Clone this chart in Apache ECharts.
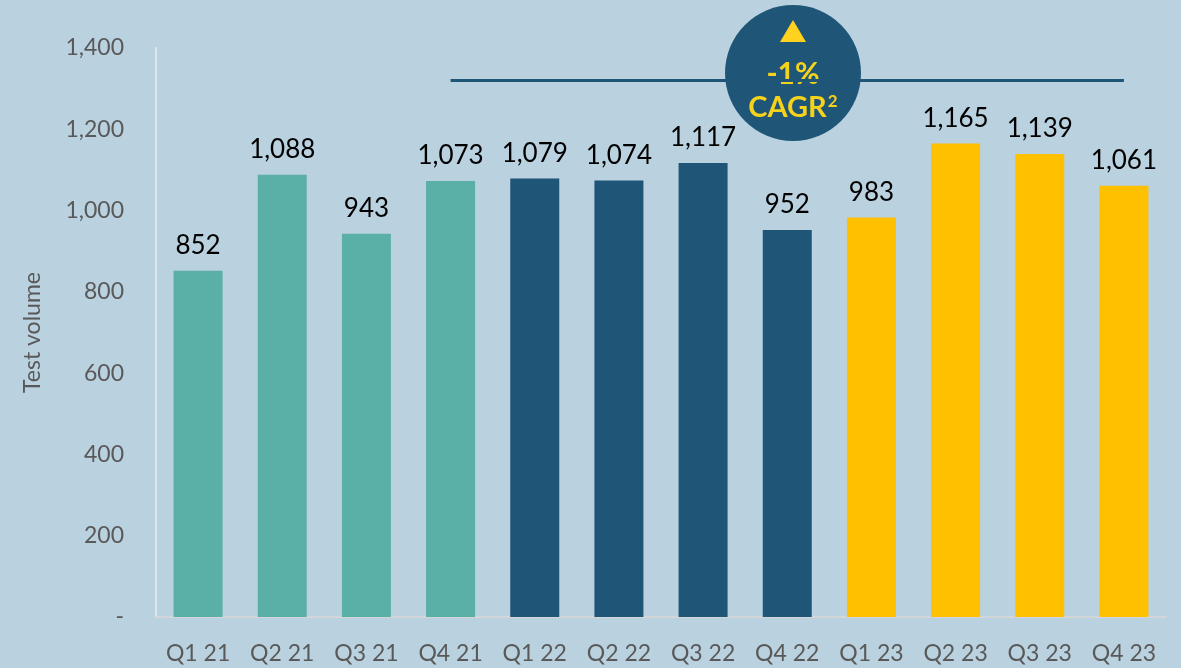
<!DOCTYPE html>
<html>
<head>
<meta charset="utf-8">
<script src="https://cdn.jsdelivr.net/npm/echarts@6/dist/echarts.min.js"></script>
<style>
    html, body { margin: 0; padding: 0; background: #bad1df; }
    #chart { width: 1181px; height: 668px; }
</style>
</head>
<body>
<div id="chart"></div>
<script>
const categories = ['Q1 21', 'Q2 21', 'Q3 21', 'Q4 21', 'Q1 22', 'Q2 22', 'Q3 22', 'Q4 22', 'Q1 23', 'Q2 23', 'Q3 23', 'Q4 23'];
const testVolume = [852, 1088, 943, 1073, 1079, 1074, 1117, 952, 983, 1165, 1139, 1061];
const yTicks = [0, 200, 400, 600, 800, 1000, 1200, 1400];
const cagrLabel = '-1%';
const cagrLevel = 1320;

const yearColors = {
    '21': '#5aafa7',
    '22': '#1f5577',
    '23': '#ffc000'
};

function barColor(category) {
    return yearColors[category.slice(-2)];
}

function formatTick(value) {
    return value === 0 ? '-' : value.toLocaleString('en-US');
}

const chart = echarts.init(document.getElementById('chart'));

chart.setOption({
    backgroundColor: '#bad1df',
    animation: false,
    grid: {
        left: 156,
        right: 15,
        top: 48,
        bottom: 51,
        containLabel: false
    },
    xAxis: {
        type: 'category',
        data: categories,
        axisLine: { lineStyle: { color: '#d3d6d8', width: 2 } },
        axisTick: { show: false },
        axisLabel: {
            color: '#595959',
            fontFamily: 'Lato',
            fontSize: 23,
            margin: 25,
            interval: 0
        }
    },
    yAxis: {
        type: 'value',
        min: yTicks[0],
        max: yTicks[yTicks.length - 1],
        interval: 200,
        name: 'Test volume',
        nameLocation: 'middle',
        nameGap: 112,
        nameTextStyle: { color: '#595959', fontFamily: 'Lato', fontSize: 23 },
        axisLine: { show: true, lineStyle: { color: '#dce8f0', width: 2 } },
        axisTick: { show: false },
        splitLine: { show: false },
        axisLabel: {
            color: '#595959',
            fontFamily: 'Lato',
            fontSize: 23,
            margin: 32,
            formatter: formatTick
        }
    },
    series: [{
        type: 'bar',
        barWidth: 49,
        data: testVolume.map((value, i) => ({
            value,
            itemStyle: { color: barColor(categories[i]) }
        })),
        label: {
            show: true,
            position: 'top',
            distance: 12,
            color: '#000000',
            fontFamily: 'Lato',
            fontSize: 26,
            formatter: p => p.value.toLocaleString('en-US')
        },
        markLine: {
            silent: true,
            symbol: 'none',
            label: { show: false },
            lineStyle: { color: '#1f5577', width: 3, type: 'solid' },
            data: [[
                { coord: ['Q4 21', cagrLevel] },
                { coord: ['Q4 23', cagrLevel] }
            ]]
        }
    }],
    graphic: [{
        type: 'group',
        left: 725,
        top: 5,
        z: 100,
        children: [
            {
                type: 'circle',
                shape: { cx: 68, cy: 68, r: 68 },
                style: { fill: '#1f5577' }
            },
            {
                type: 'polygon',
                shape: { points: [[68, 15], [55, 37], [81, 37]] },
                style: { fill: '#ffd21f' }
            },
            {
                type: 'text',
                x: 68,
                y: 69,
                style: {
                    text: cagrLabel,
                    fill: '#f5d21b',
                    font: 'bold 30px Lato',
                    align: 'center',
                    verticalAlign: 'middle'
                }
            },
            {
                type: 'text',
                x: 68,
                y: 103,
                style: {
                    text: '{m|CAGR}{s|2}',
                    align: 'center',
                    verticalAlign: 'middle',
                    rich: {
                        m: { fill: '#f5d21b', font: 'bold 29px Lato' },
                        s: { fill: '#f5d21b', font: 'bold 17px Lato', verticalAlign: 'top', padding: [0, 0, 13, 1] }
                    }
                }
            }
        ]
    }]
});

window.addEventListener('resize', () => chart.resize());
</script>
</body>
</html>
